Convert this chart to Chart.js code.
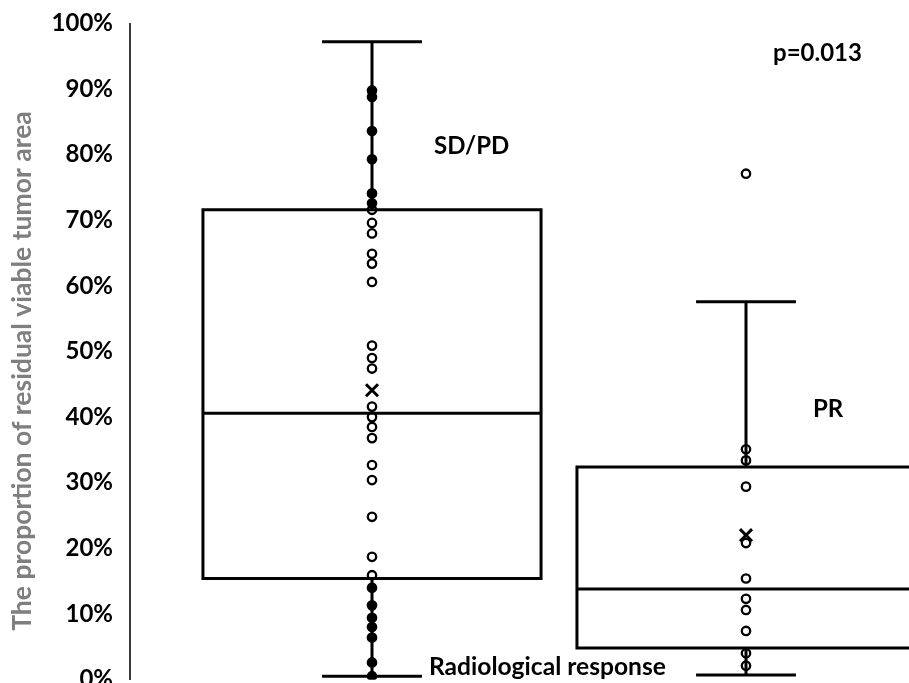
<!DOCTYPE html>
<html>
<head>
<meta charset="utf-8">
<script src="https://cdn.jsdelivr.net/npm/chart.js@4.4.1/dist/chart.umd.min.js"></script>
<style>
  html, body { margin: 0; padding: 0; background: #fff; overflow: hidden; }
  #wrap { width: 909px; height: 683px; overflow: hidden; }
  canvas { display: block; }
</style>
</head>
<body>
<div id="wrap"><canvas id="c" width="909" height="720"></canvas></div>
<script>
// ---- data (percent) ----
const categories = ["SD/PD", "PR"];
const sdpdPoints = [89.8, 88.8, 83.6, 79.3, 74.1, 72.6, 71.6, 69.6, 68.0, 64.9, 63.4, 60.6,
  50.9, 49.0, 47.4, 41.6, 40.0, 38.5, 36.8, 32.7, 30.4, 24.8, 18.7, 15.9, 14.0, 11.3,
  9.4, 8.0, 6.4, 2.6, 0.5];
const prPoints = [77.1, 35.1, 33.4, 29.4, 20.8, 15.4, 12.3, 10.6, 7.4, 4.0, 2.1];
const whiskerLow = [0.5, 0.7];
const q1 = [15.4, 4.8];
const median = [40.6, 13.8];
const q3 = [71.6, 32.4];
const whiskerHigh = [97.2, 57.6];
const means = [44.1, 22.0];
const yTicks = [0, 10, 20, 30, 40, 50, 60, 70, 80, 90, 100];
const pValueText = "p=0.013";
const yTitle = "The proportion of residual viable tumor area";
const xTitle = "Radiological response";

// ---- layout / style ----
const FONT = "Lato, 'Open Sans', sans-serif";
const boxWidthUnits = 0.904;
const capWidthUnits = 0.267;
const fillOutside = [true, false];
// desired plot geometry in page pixels
const AREA = { left: 130, top: 23.5, bottom: 679.5 };
const CAT_PX = { first: 372, step: 374 };
const labelPos = [
  { text: categories[0], x: 434, y: 146, size: 24 },
  { text: categories[1], x: 813, y: 409, size: 24 },
  { text: pValueText, x: 773, y: 53, size: 24 },
  { text: xTitle, x: 429, y: 667, size: 24.6 }
];

function pointDataset(vals, gi) {
  return {
    label: categories[gi],
    data: vals.map(v => ({ x: gi + 1, y: v })),
    pointRadius: 4.2,
    pointHoverRadius: 4.2,
    pointBorderWidth: 2.3,
    borderColor: '#000',
    pointBackgroundColor: vals.map(v => (fillOutside[gi] && (v > q3[gi] || v < q1[gi])) ? '#000' : 'rgba(255,255,255,0)'),
    showLine: false,
    order: 2
  };
}

const boxPlugin = {
  id: 'boxes',
  beforeDatasetsDraw(chart) {
    const { ctx, scales: { x, y } } = chart;
    ctx.save();
    ctx.strokeStyle = '#000';
    ctx.lineCap = 'butt';
    for (let i = 0; i < categories.length; i++) {
      const cx = x.getPixelForValue(i + 1);
      const bl = x.getPixelForValue(i + 1 - boxWidthUnits / 2);
      const br = x.getPixelForValue(i + 1 + boxWidthUnits / 2);
      const cl = x.getPixelForValue(i + 1 - capWidthUnits / 2);
      const cr = x.getPixelForValue(i + 1 + capWidthUnits / 2);
      const yq1 = y.getPixelForValue(q1[i]);
      const yq3 = y.getPixelForValue(q3[i]);
      const ymed = y.getPixelForValue(median[i]);
      const ylo = y.getPixelForValue(whiskerLow[i]);
      const yhi = y.getPixelForValue(whiskerHigh[i]);
      ctx.lineWidth = 3;
      ctx.beginPath();
      ctx.moveTo(cx, yq3); ctx.lineTo(cx, yhi);
      ctx.moveTo(cx, yq1); ctx.lineTo(cx, ylo);
      ctx.moveTo(cl, yhi); ctx.lineTo(cr, yhi);
      ctx.moveTo(cl, ylo); ctx.lineTo(cr, ylo);
      ctx.stroke();
      ctx.beginPath();
      ctx.rect(bl, yq3, br - bl, yq1 - yq3);
      ctx.stroke();
      ctx.beginPath();
      ctx.moveTo(bl, ymed); ctx.lineTo(br, ymed);
      ctx.stroke();
    }
    ctx.restore();
  },
  afterDraw(chart) {
    const { ctx } = chart;
    ctx.save();
    ctx.fillStyle = '#000';
    ctx.textAlign = 'left';
    ctx.textBaseline = 'middle';
    labelPos.forEach(l => {
      ctx.font = "bold " + l.size + "px " + FONT;
      ctx.fillText(l.text, l.x, l.y);
    });
    ctx.translate(22, 371);
    ctx.rotate(-Math.PI / 2);
    ctx.textAlign = 'center';
    ctx.fillStyle = '#7f7f7f';
    ctx.font = "bold 26.5px " + FONT;
    ctx.fillText(yTitle, 0, 0);
    ctx.restore();
  }
};

const chart = new Chart(document.getElementById('c'), {
  type: 'scatter',
  data: {
    datasets: [
      {
        label: 'mean',
        data: means.map((m, i) => ({ x: i + 1, y: m })),
        pointStyle: 'crossRot',
        pointRadius: 8.5,
        pointHoverRadius: 8.5,
        pointBorderWidth: 3,
        borderColor: '#000',
        backgroundColor: '#000',
        showLine: false,
        order: 0
      },
      pointDataset(sdpdPoints, 0),
      pointDataset(prPoints, 1)
    ]
  },
  options: {
    responsive: false,
    animation: false,
    events: [],
    layout: { padding: { top: 23.5, bottom: 40.5, left: 0, right: 0 } },
    plugins: { legend: { display: false }, tooltip: { enabled: false }, title: { display: false } },
    scales: {
      x: {
        type: 'linear',
        display: false,
        min: 0.3529,
        max: 2.4358
      },
      y: {
        type: 'linear',
        min: 0,
        max: 100,
        afterBuildTicks(s) { s.ticks = yTicks.map(v => ({ value: v })); },
        afterFit(s) { s.width = AREA.left; s.paddingTop = 0; s.paddingBottom = 0; },
        grid: { display: false, drawTicks: false },
        border: { display: true, color: '#3a3a3a', width: 2 },
        ticks: {
          padding: 17,
          color: '#000',
          font: { family: FONT, size: 24, weight: 'bold' },
          callback: v => v + '%'
        }
      }
    }
  },
  plugins: [boxPlugin]
});

// nudge layout padding so the plot area lands where the reference has it
for (let k = 0; k < 5; k++) {
  const a = chart.chartArea;
  const p = chart.options.layout.padding;
  p.top = Math.max(0, p.top + AREA.top - a.top);
  p.bottom += a.bottom - AREA.bottom;
  chart.update();
}
// set x range so category centres fall at the reference positions
{
  const a = chart.chartArea;
  const xmin = 1 - (CAT_PX.first - a.left) / CAT_PX.step;
  chart.options.scales.x.min = xmin;
  chart.options.scales.x.max = xmin + (a.right - a.left) / CAT_PX.step;
  chart.update();
}
</script>
</body>
</html>
